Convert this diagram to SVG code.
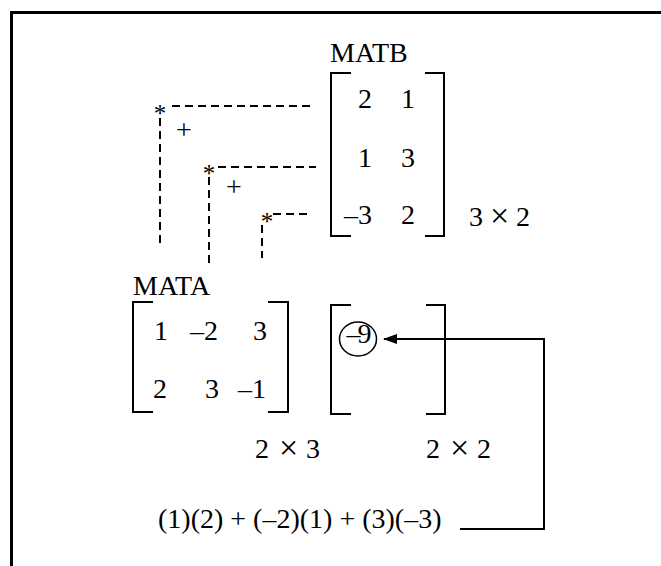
<svg xmlns="http://www.w3.org/2000/svg" width="661" height="566" viewBox="0 0 661 566">
<style>
text{font-family:"Liberation Serif","Times New Roman",serif;font-size:28px;fill:#000}
.m{text-anchor:middle}
.x{font-size:34px}
.br{fill:none;stroke:#000;stroke-width:2}
.dash{fill:none;stroke:#000;stroke-width:2;stroke-dasharray:8 5}
.ln{fill:none;stroke:#000;stroke-width:2}
.ast{font-size:25px}
</style>
<defs>
<marker id="ah" markerWidth="14" markerHeight="10" refX="13" refY="5" orient="auto" markerUnits="userSpaceOnUse">
<path d="M0,0 L14,5 L0,10 Z" fill="#000"/>
</marker>
</defs>
<rect x="11.5" y="12.5" width="700" height="600" fill="#fff" stroke="#000" stroke-width="3"/>

<g id="matb">
<text x="330" y="62">MATB</text>
<path class="br" d="M351,73 H331 V236 H351 M425,73 H444 V236 H425"/>
<text class="m" x="365" y="108">2</text><text class="m" x="408" y="108">1</text>
<text class="m" x="365" y="167">1</text><text class="m" x="408" y="167">3</text>
<text class="m" x="358" y="224">–3</text><text class="m" x="408" y="224">2</text>
<text x="469" y="226">3<tspan class="x" x="490" y="227">×</tspan><tspan x="516" y="226">2</tspan></text>
</g>

<g id="mata">
<text x="133" y="295">MATA</text>
<path class="br" d="M153,302 H133 V412 H153 M268,302 H288 V412 H268"/>
<text class="m" x="161" y="340">1</text><text class="m" x="204" y="340">–2</text><text class="m" x="260" y="340">3</text>
<text class="m" x="160" y="398">2</text><text class="m" x="212" y="398">3</text><text class="m" x="252" y="398">–1</text>
<text x="255" y="458">2<tspan class="x" x="279" y="459">×</tspan><tspan x="306" y="458">3</tspan></text>
</g>

<g id="result">
<path class="br" d="M351,305 H331 V414 H351 M426,305 H445 V414 H426"/>
<ellipse cx="358" cy="339" rx="18.5" ry="17" fill="none" stroke="#000" stroke-width="1.5"/>
<text class="m" x="357.5" y="343" letter-spacing="-3">–9</text>
<text x="426" y="458">2<tspan class="x" x="450" y="459">×</tspan><tspan x="477" y="458">2</tspan></text>
</g>

<g id="formula">
<text x="158" y="528">(1)(2) + (–2)(1) + (3)(–3)</text>
</g>

<g id="ops">
<text class="m ast" x="160" y="122">*</text>
<text class="m ast" x="209" y="182">*</text>
<text class="m ast" x="267" y="230">*</text>
<text class="m" x="184" y="139">+</text>
<text class="m" x="234" y="196">+</text>
</g>

<g id="connectors">
<path class="dash" d="M172,106 H315"/>
<path class="dash" d="M160,118 V248"/>
<path class="dash" d="M218,167 H316"/>
<path class="dash" d="M209,177 V263"/>
<path class="dash" d="M273,214 H311"/>
<path class="dash" d="M262,225 V258"/>
<path class="ln" d="M460,529 H544 V339 H384" marker-end="url(#ah)"/>
</g>
</svg>
